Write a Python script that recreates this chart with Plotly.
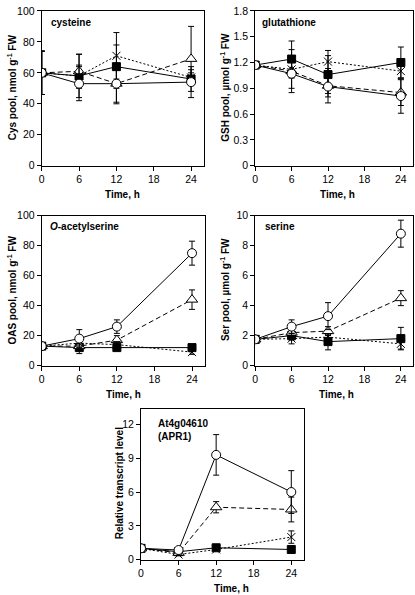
import plotly.graph_objects as go

time = [0, 6, 12, 24]

# cysteine (nmol/g FW)
cys_circle = [60, 53, 53, 54]; cys_circle_err = [14, 11, 13, 10]
cys_square = [60, 58, 64, 56]; cys_square_err = [14, 7, 14, 4]
cys_tri = [60, 61, 53, 69]; cys_tri_err = [14, 11, 12, 21]
cys_cross = [60, 58, 71, 57]; cys_cross_err = [14, 14, 15, 5]

# glutathione (umol/g FW)
gsh_circle = [1.17, 1.07, 0.92, 0.81]; gsh_circle_err = [0.01, 0.17, 0.12, 0.20]
gsh_square = [1.17, 1.24, 1.06, 1.20]; gsh_square_err = [0.01, 0.21, 0.22, 0.18]
gsh_tri = [1.17, 1.10, 0.93, 0.85]; gsh_tri_err = [0.01, 0.25, 0.20, 0.15]
gsh_cross = [1.17, 1.12, 1.21, 1.10]; gsh_cross_err = [0.01, 0.10, 0.13, 0.08]

# O-acetylserine (nmol/g FW)
oas_circle = [13, 18, 26, 75]; oas_circle_err = [1.5, 6, 4.5, 8]
oas_square = [13, 12, 12, 12]; oas_square_err = [1.5, 2, 2, 2]
oas_tri = [13, 13, 17, 44]; oas_tri_err = [1.5, 5, 3, 6.5]
oas_cross = [13, 15, 14, 9]; oas_cross_err = [1.5, 2, 2, 1.5]

# serine (umol/g FW)
ser_circle = [1.75, 2.6, 3.3, 8.8]; ser_circle_err = [0.1, 0.45, 0.9, 0.9]
ser_square = [1.75, 2.0, 1.6, 1.8]; ser_square_err = [0.1, 0.3, 0.55, 0.75]
ser_tri = [1.75, 2.2, 2.3, 4.5]; ser_tri_err = [0.1, 0.3, 0.3, 0.5]
ser_cross = [1.75, 1.8, 1.9, 1.45]; ser_cross_err = [0.1, 0.35, 0.2, 0.35]

# APR1 relative transcript
apr_circle = [1.0, 0.85, 9.3, 6.0]; apr_circle_err = [0.05, 0.2, 1.8, 1.9]
apr_square = [1.0, 0.7, 1.05, 0.9]; apr_square_err = [0.05, 0.1, 0.1, 0.1]
apr_tri = [1.0, 0.6, 4.65, 4.45]; apr_tri_err = [0.05, 0.15, 0.5, 1.1]
apr_cross = [1.0, 0.45, 0.9, 2.0]; apr_cross_err = [0.05, 0.1, 0.1, 0.55]

W, H = 415, 595
FONT = "Arial, Liberation Sans, sans-serif"

def px_x(a, b):
    return [a / W, b / W]

def px_y(top, bottom):
    return [1 - bottom / H, 1 - top / H]

panels = [
    dict(label="<b>cysteine</b>", ytitle="<b>Cys pool, nmol g<sup>-1</sup> FW</b>",
         yr=[0, 100], ytick=20, xd=(39, 202), yd=(5, 163),
         lab=(7, 4), xt=0, yt=-30,
         data=[(cys_square, cys_square_err, "sq"), (cys_tri, cys_tri_err, "tri"),
               (cys_cross, cys_cross_err, "x"), (cys_circle, cys_circle_err, "ci")]),
    dict(label="<b>glutathione</b>", ytitle="<b>GSH pool, µmol g<sup>-1</sup> FW</b>",
         yr=[0, 1.8], ytick=0.3, xd=(254, 413), yd=(5, 163),
         lab=(5, 4), xt=3, yt=-30,
         data=[(gsh_square, gsh_square_err, "sq"), (gsh_tri, gsh_tri_err, "tri"),
               (gsh_cross, gsh_cross_err, "x"), (gsh_circle, gsh_circle_err, "ci")]),
    dict(label="<b><i>O</i>-acetylserine</b>", ytitle="<b>OAS pool, nmol g<sup>-1</sup> FW</b>",
         yr=[0, 100], ytick=20, xd=(39, 203), yd=(214, 367),
         lab=(6, 3), xt=0, yt=-30,
         data=[(oas_square, oas_square_err, "sq"), (oas_tri, oas_tri_err, "tri"),
               (oas_cross, oas_cross_err, "x"), (oas_circle, oas_circle_err, "ci")]),
    dict(label="<b>serine</b>", ytitle="<b>Ser pool, µmol g<sup>-1</sup> FW</b>",
         yr=[0, 10], ytick=2, xd=(254, 413), yd=(214, 367),
         lab=(8, 3), xt=2, yt=-31,
         data=[(ser_square, ser_square_err, "sq"), (ser_tri, ser_tri_err, "tri"),
               (ser_cross, ser_cross_err, "x"), (ser_circle, ser_circle_err, "ci")]),
    dict(label="<b>At4g04610<br>(APR1)</b>", ytitle="<b>Relative transcript level</b>",
         yr=[0, 13.4], ytick=3, xd=(139, 303), yd=(411, 565),
         lab=(15, 7), xt=9, yt=-22,
         data=[(apr_square, apr_square_err, "sq"), (apr_tri, apr_tri_err, "tri"),
               (apr_cross, apr_cross_err, "x"), (apr_circle, apr_circle_err, "ci")]),
]

styles = {
    "ci": dict(line=dict(color="black", width=1, dash="solid"),
               marker=dict(symbol="circle", size=9, color="white", line=dict(color="black", width=1))),
    "sq": dict(line=dict(color="black", width=1, dash="solid"),
               marker=dict(symbol="square", size=8, color="black", line=dict(color="black", width=1))),
    "tri": dict(line=dict(color="black", width=1, dash="5px,3px"),
                marker=dict(symbol="triangle-up", size=10, color="white", line=dict(color="black", width=1))),
    "x": dict(line=dict(color="black", width=1, dash="2px,2px"),
              marker=dict(symbol="x-thin", size=8, color="black", line=dict(color="black", width=1))),
}

fig = go.Figure()
layout = dict(width=W, height=H, margin=dict(l=0, r=0, t=0, b=0),
              paper_bgcolor="white", plot_bgcolor="white", showlegend=False,
              font=dict(family=FONT, size=10, color="black"))
annotations = []

for i, p in enumerate(panels, start=1):
    xa = "xaxis" if i == 1 else f"xaxis{i}"
    ya = "yaxis" if i == 1 else f"yaxis{i}"
    xref = "x" if i == 1 else f"x{i}"
    yref = "y" if i == 1 else f"y{i}"
    layout[xa] = dict(domain=px_x(*p["xd"]), range=[0, 26], anchor=yref,
                      tickvals=[0, 6, 12, 18, 24], ticks="outside", ticklen=4, tickwidth=1,
                      tickcolor="black", showline=True, linecolor="black", linewidth=1,
                      mirror=True, showgrid=False, zeroline=False,
                      tickfont=dict(size=10.5))
    layout[ya] = dict(domain=px_y(*p["yd"]), range=p["yr"], anchor=xref,
                      dtick=p["ytick"], tick0=0, ticks="outside", ticklen=4, tickwidth=1,
                      tickcolor="black", showline=True, linecolor="black", linewidth=1,
                      mirror=True, showgrid=False, zeroline=False,
                      tickfont=dict(size=10.5))
    for vals, errs, kind in p["data"]:
        st = styles[kind]
        fig.add_trace(go.Scatter(
            x=time, y=vals, mode="lines+markers", xaxis=xref, yaxis=yref,
            line=st["line"], marker=st["marker"], hoverinfo="skip",
            error_y=dict(type="data", array=errs, visible=True, color="black",
                         thickness=1, width=3)))
    x0, x1 = p["xd"]
    y0, y1 = p["yd"]
    lx, ly = p["lab"]
    annotations.append(dict(text=p["label"], x=(x0 + lx) / W, y=1 - (y0 + ly) / H,
                            xref="paper", yref="paper", xanchor="left", yanchor="top",
                            showarrow=False, align="left", font=dict(size=10)))
    annotations.append(dict(text="<b>Time, h</b>", x=(0.5 * (x0 + x1) + p["xt"]) / W,
                            y=1 - (y1 + 29) / H, xref="paper", yref="paper",
                            xanchor="center", yanchor="middle", showarrow=False,
                            font=dict(size=10)))
    annotations.append(dict(text=p["ytitle"], x=(x0 + p["yt"]) / W,
                            y=1 - (0.5 * (y0 + y1) - 1) / H,
                            xref="paper", yref="paper", xanchor="center", yanchor="middle",
                            textangle=-90, showarrow=False, font=dict(size=10)))

layout["annotations"] = annotations
fig.update_layout(**layout)
fig.write_html("out.html", config={"displayModeBar": False},
               post_script="document.body.style.margin='0px';document.body.style.overflow='hidden';")
